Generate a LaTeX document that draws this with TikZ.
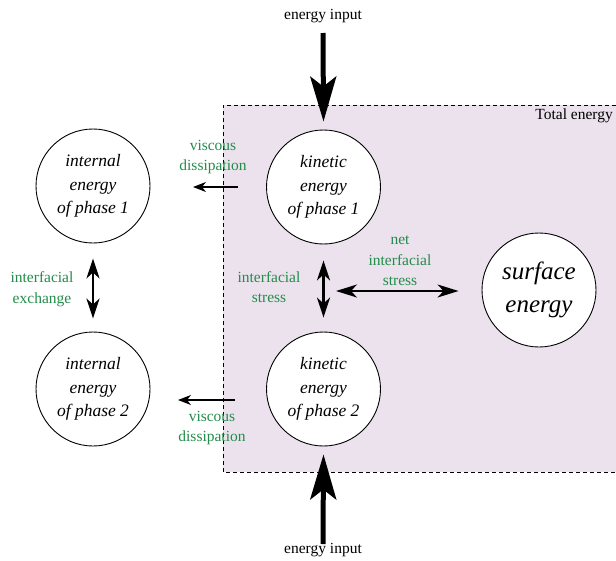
\documentclass[tikz,border=0pt]{standalone}
\usepackage{fontspec}
\setmainfont{Liberation Serif}
\usetikzlibrary{arrows.meta}
\definecolor{lblgreen}{RGB}{35,140,75}
\definecolor{boxfill}{RGB}{236,226,238}
\tikzset{
  energybox/.style={circle, draw, line width=0.9pt, fill=white, minimum size=114pt, inner sep=0pt, align=center,
     font=\itshape\fontsize{17.5}{23.5}\selectfont},
  greenlbl/.style={text=lblgreen, align=center, font=\fontsize{15.5}{20.5}\selectfont, inner sep=0pt},
  blacklbl/.style={align=center, font=\fontsize{15.5}{20}\selectfont, inner sep=0pt},
  bigarrow/.style={line width=5pt, -{Stealth[length=45pt, width=26pt, inset=10pt]}},
  thinarrow/.style={line width=1.2pt, -{Stealth[length=13pt, width=10pt, inset=4pt]}},
  dblarrow/.style={line width=2.6pt, {Stealth[length=20pt, width=13pt, inset=6pt]}-{Stealth[length=20pt, width=13pt, inset=6pt]}},
  hdblarrow/.style={line width=1.4pt, {Stealth[length=21pt, width=13pt, inset=6pt]}-{Stealth[length=21pt, width=13pt, inset=6pt]}},
}
\begin{document}
\begin{tikzpicture}[x=1pt, y=-1pt]
\useasboundingbox (0,0) rectangle (616,560);
% total energy region
\fill[boxfill] (223,105) rectangle (616,472);
\draw[line width=0.9pt, dash pattern=on 4pt off 3pt] (616,105) -- (223,105) -- (223,472) -- (616,472);
\node[blacklbl, anchor=east] (total) at (613,116) {Total energy};

% circles
\node[energybox] (int1) at (93,186) {internal\\energy\\of phase 1};
\node[energybox] (kin1) at (323.5,187) {kinetic\\energy\\of phase 1};
\node[energybox] (int2) at (93,389) {internal\\energy\\of phase 2};
\node[energybox] (kin2) at (323.5,389) {kinetic\\energy\\of phase 2};
\node[energybox, font=\itshape\fontsize{25}{33}\selectfont] (surf) at (539,290) {surface\\energy};

% energy inputs
\node[blacklbl] (ein1) at (323,16) {energy input};
\node[blacklbl] (ein2) at (323,550) {energy input};
\coordinate (ein1s) at (323,33);
\coordinate (ein2s) at (323,544);
\draw[bigarrow] (ein1s) -- ([yshift=8pt]kin1.north);
\draw[bigarrow] (ein2s) -- ([yshift=-8pt]kin2.south);

% viscous dissipation
\coordinate (vd1s) at (238,187);
\coordinate (vd1e) at (193,187);
\coordinate (vd2s) at (235,400);
\coordinate (vd2e) at (178,400);
\draw[thinarrow] (vd1s) -- (vd1e);
\draw[thinarrow] (vd2s) -- (vd2e);
\node[greenlbl] (vdl1) at (213,157) {viscous\\dissipation};
\node[greenlbl] (vdl2) at (212,428) {viscous\\dissipation};

% interfacial exchange / stress
\draw[dblarrow] ([yshift=-15pt]int1.south) -- ([yshift=13pt]int2.north);
\draw[dblarrow] ([yshift=-16pt]kin1.south) -- ([yshift=14pt]kin2.north);
\node[greenlbl] (iex) at (42,289) {interfacial\\exchange};
\node[greenlbl] (ist) at (269,287) {interfacial\\stress};

% net interfacial stress
\coordinate (nisl) at (336,291);
\draw[hdblarrow] (nisl) -- ([xshift=-23pt]surf.west |- nisl);
\node[greenlbl] (nis) at (400,261) {net\\interfacial\\stress};
\end{tikzpicture}
\end{document}
